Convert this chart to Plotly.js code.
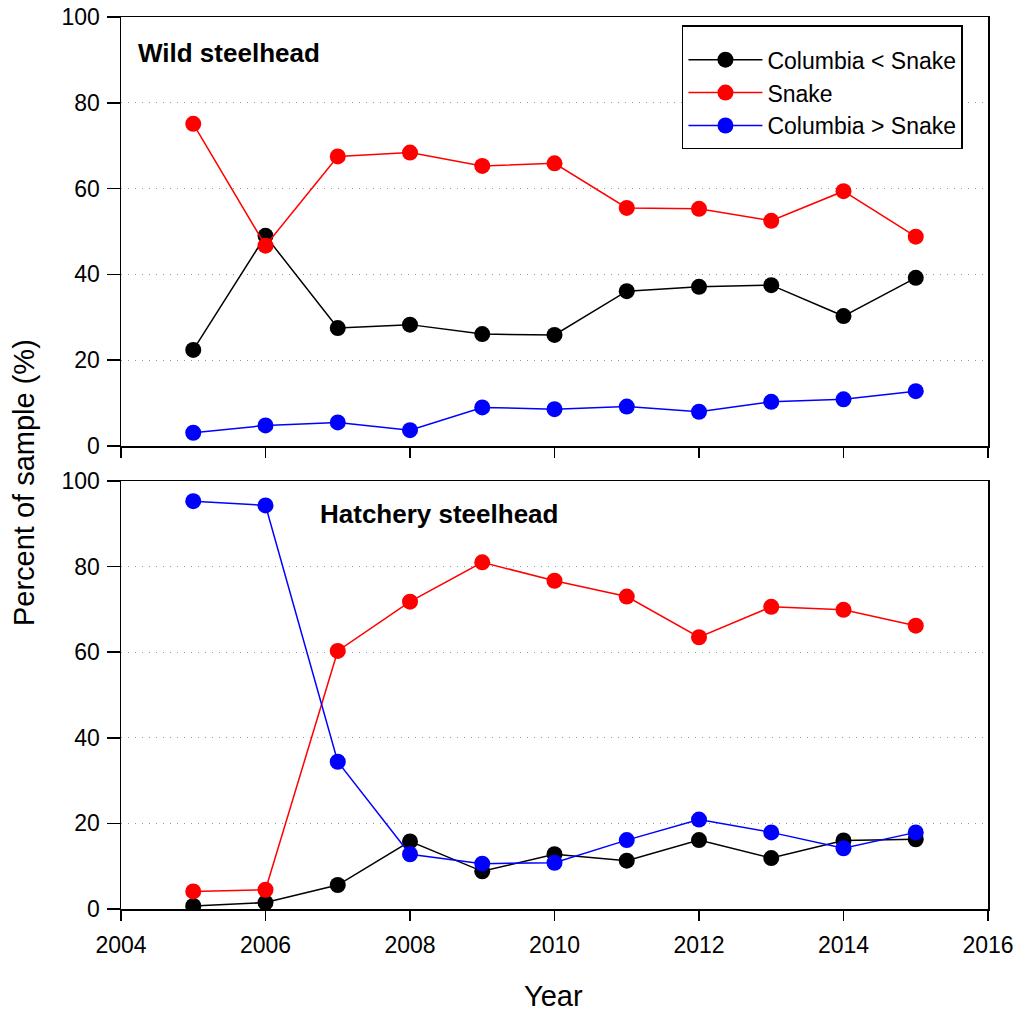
<!DOCTYPE html>
<html>
<head>
<meta charset="utf-8">
<script src="https://cdn.plot.ly/plotly-3.0.1.min.js"></script>
<style>body{margin:0;padding:0;background:#fff;}#chart{width:1018px;height:1011px;}</style>
</head>
<body>
<div id="chart"></div>
<script>
const years = [2005,2006,2007,2008,2009,2010,2011,2012,2013,2014,2015];
const seriesNames = ["Columbia < Snake","Snake","Columbia > Snake"];
const seriesColors = ["#000000","#ff0000","#0000ff"];

const wildColLess = [22.4,49.0,27.5,28.3,26.1,25.9,36.1,37.1,37.5,30.3,39.2];
const wildSnake   = [75.1,46.7,67.5,68.4,65.3,65.9,55.5,55.3,52.5,59.4,48.8];
const wildColMore = [3.1,4.8,5.5,3.7,9.0,8.6,9.2,8.0,10.3,10.9,12.8];

const hatchColLess = [0.7,1.5,5.6,15.8,8.8,12.8,11.3,16.1,11.9,16.0,16.3];
const hatchSnake   = [4.1,4.5,60.3,71.8,81.0,76.7,73.0,63.5,70.6,69.9,66.2];
const hatchColMore = [95.3,94.3,34.4,12.8,10.6,10.8,16.1,20.9,17.9,14.2,17.9];

const yTicks = [0,20,40,60,80,100];
const xTicks = [2004,2006,2008,2010,2012,2014,2016];

const wild = [wildColLess, wildSnake, wildColMore];
const hatch = [hatchColLess, hatchSnake, hatchColMore];

const traces = [];
wild.forEach((vals,i)=>{
  traces.push({x:years,y:vals,type:'scatter',mode:'lines+markers',name:seriesNames[i],
    xaxis:'x',yaxis:'y',showlegend:true,
    line:{color:seriesColors[i],width:1.5},marker:{color:seriesColors[i],size:16}});
});
hatch.forEach((vals,i)=>{
  traces.push({x:years,y:vals,type:'scatter',mode:'lines+markers',name:seriesNames[i],
    xaxis:'x2',yaxis:'y2',showlegend:false,
    line:{color:seriesColors[i],width:1.5},marker:{color:seriesColors[i],size:16}});
});

const fam = 'Liberation Sans, Arial, sans-serif';
const font = {family:fam,color:'#000'};
const xBase = {range:[2004,2016],tickvals:xTicks,showline:true,mirror:true,linecolor:'#000',linewidth:1.5,
  ticks:'outside',ticklen:10,tickwidth:1.5,tickcolor:'#000',showgrid:false,zeroline:false,
  ticklabelstandoff:5,
  tickfont:{size:23,family:fam,color:'#000'}};
const yBase = {range:[0,100],tickvals:yTicks,showline:true,mirror:true,linecolor:'#000',linewidth:1.5,
  ticks:'outside',ticklen:13,tickwidth:1.5,tickcolor:'#000',showgrid:true,gridcolor:'#8a9aa6',griddash:'1px,6px',gridwidth:1,
  zeroline:false,ticklabelstandoff:2,tickfont:{size:23,family:fam,color:'#000'}};

const layout = {
  width:1018,height:1011,
  margin:{l:121,r:30,t:17,b:102},
  paper_bgcolor:'#fff',plot_bgcolor:'#fff',
  font:font,
  showlegend:true,
  legend:{x:0.647,y:0.991,xanchor:'left',yanchor:'top',bordercolor:'#000',borderwidth:1.5,bgcolor:'#fff',
    font:{size:23,family:fam,color:'#000'},tracegroupgap:0,itemwidth:74,
    title:{text:' ',font:{size:9,family:fam}}},
  xaxis:Object.assign({},xBase,{anchor:'y',showticklabels:false,domain:[0,1]}),
  yaxis:Object.assign({},yBase,{domain:[0.519,1],anchor:'x'}),
  xaxis2:Object.assign({},xBase,{anchor:'y2',domain:[0,1]}),
  yaxis2:Object.assign({},yBase,{domain:[0,0.4798],anchor:'x2'}),
  annotations:[
    {text:'<b>Wild steelhead</b>',xref:'paper',yref:'paper',x:0.017,y:0.96,xanchor:'left',yanchor:'middle',showarrow:false,font:{size:26,family:fam,color:'#000'}},
    {text:'<b>Hatchery steelhead</b>',xref:'paper',yref:'paper',x:0.227,y:0.443,xanchor:'left',yanchor:'middle',showarrow:false,font:{size:26,family:fam,color:'#000'}},
    {text:'Percent of sample (%)',xref:'paper',x:-0.1125,xanchor:'center',yref:'paper',y:0.478,yanchor:'middle',textangle:-90,showarrow:false,font:{size:29,family:fam,color:'#000'}},
    {text:'Year',xref:'paper',yref:'paper',x:0.499,y:-0.098,xanchor:'center',yanchor:'middle',showarrow:false,font:{size:29,family:fam,color:'#000'}}
  ]
};
Plotly.newPlot('chart',traces,layout,{displayModeBar:false,staticPlot:true});
</script>
</body>
</html>
